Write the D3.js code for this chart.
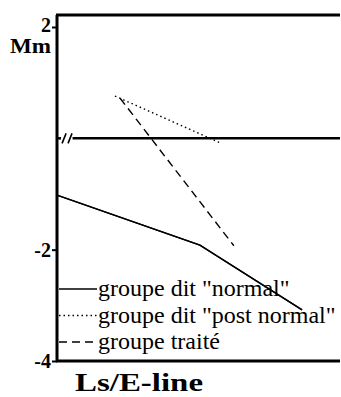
<!DOCTYPE html>
<html>
<head>
<meta charset="utf-8">
<script src="https://cdn.jsdelivr.net/npm/d3@7"></script>
<style>
  body { margin: 0; background: #fff; }
  svg { display: block; }
  .y-axis text { font-family: "Liberation Serif", serif; font-weight: bold; font-size: 20px; }
</style>
</head>
<body>
<div id="chart"></div>
<script>
// values (x has no labels: relative position 0-100)
const seriesNames = ['groupe dit "normal"', 'groupe dit "post normal"', 'groupe traité'];
const normalX = [0, 50.5, 86.6];
const normalY = [-1.02, -1.92, -3.08];
const postNormalX = [20.5, 57.6];
const postNormalY = [0.76, -0.08];
const traiteX = [22.3, 62.5];
const traiteY = [0.72, -1.93];
const yTicks = [2, -2, -4];

var width = 341, height = 397;

let svg = d3.select("#chart")
  .append("svg")
  .attr("width", width)
  .attr("height", height);

let x = d3.scaleLinear().domain([0, 100]).range([57, 340]);
let y = d3.scaleLinear().domain([-4, 2]).range([361, 27]);
let yTop = y(2.215);

// frame: left axis, top and bottom borders
svg.append("g")
  .attr("class", "y-axis")
  .attr("transform", "translate(" + x(0) + ",0)")
  .call(d3.axisLeft(y).tickValues(yTicks).tickSize(5).tickFormat(d => String(d)))
  .attr("font-family", "Liberation Serif")
  .attr("font-weight", "bold")
  .attr("font-size", 20)
  .call(g => g.select(".domain").remove())
  .call(g => g.selectAll("line").attr("stroke", "#000").attr("stroke-width", 2))
  .call(g => g.selectAll("text")
    .attr("x", -6)
    .attr("dy", d => d === 2 ? "0.2em" : "0.32em")
    .attr("fill", "#000"));

svg.append("line")
  .attr("x1", x(0)).attr("x2", x(0))
  .attr("y1", yTop).attr("y2", y(-4) + 1)
  .attr("stroke", "#000").attr("stroke-width", 3);

svg.append("line")
  .attr("x1", x(0) - 1).attr("x2", x(100))
  .attr("y1", yTop).attr("y2", yTop)
  .attr("stroke", "#000").attr("stroke-width", 3);

svg.append("line")
  .attr("x1", x(0) - 1).attr("x2", x(100))
  .attr("y1", y(-4)).attr("y2", y(-4))
  .attr("stroke", "#000").attr("stroke-width", 3);

// zero line with axis break mark
let y0 = y(0);
svg.append("line")
  .attr("x1", x(0)).attr("x2", x(0) + 4)
  .attr("y1", y0).attr("y2", y0)
  .attr("stroke", "#000").attr("stroke-width", 2.5);
svg.append("line")
  .attr("x1", x(5.5)).attr("x2", x(100))
  .attr("y1", y0).attr("y2", y0)
  .attr("stroke", "#000").attr("stroke-width", 2.5);
[2.5, 4.6].forEach(function (v) {
  svg.append("line")
    .attr("x1", x(v) - 2).attr("x2", x(v) + 2)
    .attr("y1", y0 + 5).attr("y2", y0 - 5)
    .attr("stroke", "#000").attr("stroke-width", 1.6);
});

// "Mm" unit label
svg.append("text")
  .attr("x", 51).attr("y", 53)
  .attr("text-anchor", "end")
  .style("font-family", "'Liberation Serif', serif")
  .style("font-weight", "bold")
  .style("font-size", "20px")
  .attr("textLength", 41)
  .attr("lengthAdjust", "spacingAndGlyphs")
  .text("Mm");

// series
const dashes = [null, "1.5,3", "8,5"];
const series = [
  d3.zip(normalX, normalY),
  d3.zip(postNormalX, postNormalY),
  d3.zip(traiteX, traiteY)
];

let line = d3.line().x(d => x(d[0])).y(d => y(d[1]));

series.forEach(function (s, i) {
  svg.append("path")
    .datum(s)
    .attr("d", line)
    .attr("fill", "none")
    .attr("stroke", "#000")
    .attr("stroke-width", 1.4)
    .attr("stroke-dasharray", dashes[i]);
});

// legend
let legend = svg.append("g");
seriesNames.forEach(function (name, i) {
  let ly = 289 + i * 26.5;
  legend.append("line")
    .attr("x1", 59).attr("x2", 97)
    .attr("y1", ly).attr("y2", ly)
    .attr("stroke", "#000")
    .attr("stroke-width", 1.4)
    .attr("stroke-dasharray", dashes[i]);
  legend.append("text")
    .attr("x", 98).attr("y", ly + 7)
    .style("font-family", "'Liberation Serif', serif")
    .style("font-size", "24px")
    .text(name);
});

// redraw the normal line on top of legend text
svg.append("path")
  .datum(series[0])
  .attr("d", line)
  .attr("fill", "none")
  .attr("stroke", "#000")
  .attr("stroke-width", 1.4);

// title below
svg.append("text")
  .attr("x", 75).attr("y", 391)
  .style("font-family", "'Liberation Serif', serif")
  .style("font-weight", "bold")
  .style("font-size", "26px")
  .attr("textLength", 128)
  .attr("lengthAdjust", "spacingAndGlyphs")
  .text("Ls/E-line");
</script>
</body>
</html>
